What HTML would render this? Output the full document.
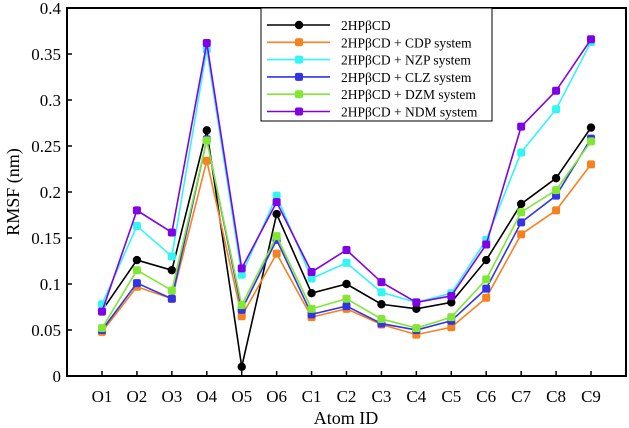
<!DOCTYPE html>
<html><head><meta charset="utf-8"><style>
body{margin:0;background:#fff}
svg{display:block;font-family:"Liberation Serif",serif}
</style></head><body>
<svg id="chart" width="629" height="428">
<g id="axes"></g>
<g id="series"></g>
<g id="legend"></g>
</svg>
<script>
const categories=["O1","O2","O3","O4","O5","O6","C1","C2","C3","C4","C5","C6","C7","C8","C9"];
const seriesNames=["2HPβCD","2HPβCD + CDP system","2HPβCD + NZP system","2HPβCD + CLZ system","2HPβCD + DZM system","2HPβCD + NDM system"];
const sBlack=[.071,.126,.115,.267,.01,.176,.09,.1,.078,.073,.08,.126,.187,.215,.27];
const sOrange=[.048,.097,.084,.234,.065,.133,.064,.073,.056,.045,.053,.085,.154,.18,.23];
const sCyan=[.078,.163,.13,.355,.11,.196,.106,.123,.091,.08,.09,.148,.243,.29,.363];
const sBlue=[.05,.101,.084,.257,.072,.148,.067,.076,.057,.05,.06,.095,.167,.196,.258];
const sGreen=[.052,.115,.093,.256,.077,.152,.073,.084,.062,.052,.064,.105,.178,.202,.255];
const sPurple=[.07,.18,.156,.362,.117,.189,.113,.137,.102,.08,.087,.143,.271,.31,.366];
const yTicks=[0,0.05,0.1,0.15,0.2,0.25,0.3,0.35,0.4];
const yTickLabels=["0","0.05","0.1","0.15","0.2","0.25","0.3","0.35","0.4"];
const allSeries=[sBlack,sOrange,sCyan,sBlue,sGreen,sPurple];
const colors=["#000000","#f5821f","#33f5f5","#3333e8","#80e833","#8000e8"];
const NS="http://www.w3.org/2000/svg";
const L=67,R=626,T=8,B=376;
const x=i=>102+i*(591-102)/(categories.length-1);
const y=v=>B-(v/0.4)*(B-T);
function mk(tag,at,par){const e=document.createElementNS(NS,tag);for(const k in at)e.setAttribute(k,at[k]);par.appendChild(e);return e;}
const axes=document.getElementById('axes');
let fr=mk('rect',{x:L,y:T,width:R-L,height:B-T,fill:'none',stroke:'#000','stroke-width':2},axes);


yTicks.forEach((v,i)=>{
 let t=mk('line',{x1:L,x2:L+5,y1:y(v),y2:y(v),stroke:'#000','stroke-width':1.5},axes);
 
 
 let tx=mk('text',{x:L-6,y:y(v)+6,'text-anchor':'end','font-size':17},axes);tx.textContent=yTickLabels[i];
 
 
});
categories.forEach((c,i)=>{
 let t=mk('line',{x1:x(i),x2:x(i),y1:B,y2:B-5,stroke:'#000','stroke-width':1.5},axes);
 
 
 let tx=mk('text',{x:x(i),y:402,'text-anchor':'middle','font-size':17},axes);tx.textContent=c;
 
 
});
let xt=mk('text',{x:346,y:424,'text-anchor':'middle','font-size':18},axes);xt.textContent="Atom ID";


let yt=mk('text',{x:0,y:0,'text-anchor':'middle','font-size':18,transform:'translate(19,192) rotate(-90)'},axes);yt.textContent="RMSF (nm)";


const sg=document.getElementById('series');
allSeries.forEach((s,k)=>{
 const g=mk('g',{},sg);
 
 
 const pl=mk('polyline',{points:s.map((v,i)=>x(i)+','+y(v)).join(' '),fill:'none',stroke:colors[k],'stroke-width':1.6},g);
 
 
 s.forEach((v,i)=>{
  const p=k==0?mk('circle',{cx:x(i),cy:y(v),r:4.2,fill:colors[k]},g):mk('rect',{x:x(i)-4,y:y(v)-4,width:8,height:8,rx:2,fill:colors[k]},g);
  
  
 });
});
const lg=document.getElementById('legend');
let lb=mk('rect',{x:261,y:8,width:231,height:113,fill:'#fff',stroke:'#000','stroke-width':1},lg);


seriesNames.forEach((n,k)=>{
 const yy=25+k*17.3;
 const g=mk('g',{},lg);
 
 
 mk('line',{x1:267,x2:330,y1:yy,y2:yy,stroke:colors[k],'stroke-width':1.6},g);
 if(k==0)mk('circle',{cx:299,cy:yy,r:4.2,fill:colors[k]},g);else mk('rect',{x:295,y:yy-4,width:8,height:8,rx:2,fill:colors[k]},g);
 const t=mk('text',{x:341,y:yy+5,'font-size':13.5},g);t.textContent=n;
});
</script>
</body></html>
